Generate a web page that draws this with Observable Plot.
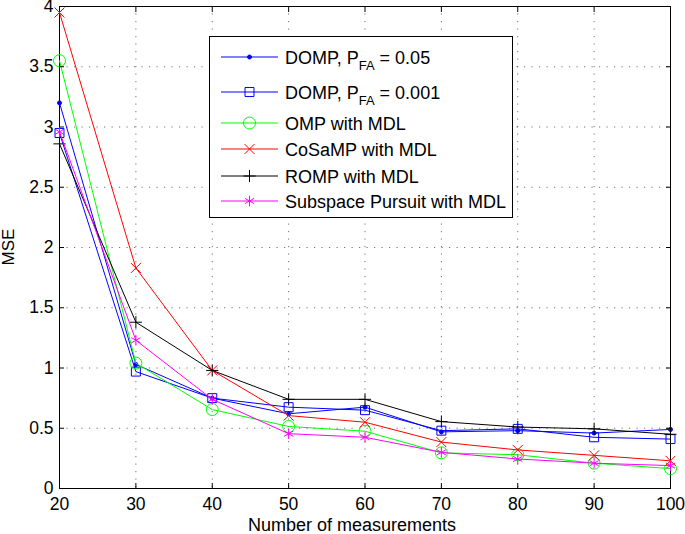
<!DOCTYPE html>
<html><head><meta charset="utf-8">
<script src="https://cdn.jsdelivr.net/npm/d3@7"></script>
<script src="https://cdn.jsdelivr.net/npm/@observablehq/plot@0.6"></script>
<style>
body{margin:0;background:#fff}
#chart{width:685px;height:534px}
</style>
</head><body><div id="chart"></div>
<script>
const measurements = [20, 30, 40, 50, 60, 70, 80, 90, 100];
const dompPfa005  = [3.20, 1.03, 0.75, 0.62, 0.675, 0.47, 0.48, 0.46, 0.49];
const dompPfa0001 = [2.95, 0.97, 0.75, 0.675, 0.65, 0.48, 0.495, 0.425, 0.41];
const ompMdl      = [3.55, 1.04, 0.655, 0.515, 0.475, 0.296, 0.28, 0.21, 0.165];
const cosampMdl   = [3.95, 1.83, 0.98, 0.605, 0.55, 0.385, 0.32, 0.275, 0.23];
const rompMdl     = [2.86, 1.38, 0.98, 0.74, 0.74, 0.555, 0.51, 0.495, 0.45];
const spMdl       = [2.96, 1.23, 0.74, 0.455, 0.425, 0.30, 0.245, 0.21, 0.19];

const xTicks = [20, 30, 40, 50, 60, 70, 80, 90, 100];
const yTicks = [0, 0.5, 1, 1.5, 2, 2.5, 3, 3.5, 4];
const xLabel = "Number of measurements";
const yLabel = "MSE";

const series = [
  {name: "DOMP, P", sub: "FA", rest: " = 0.05", values: dompPfa005, color: "#0000ff", symbol: "circle", r: 2, fill: "#0000ff"},
  {name: "DOMP, P", sub: "FA", rest: " = 0.001", values: dompPfa0001, color: "#0000ff", symbol: "square2", r: 5.7, fill: "none"},
  {name: "OMP with MDL", values: ompMdl, color: "#00ff00", symbol: "circle", r: 6, fill: "none"},
  {name: "CoSaMP with MDL", values: cosampMdl, color: "#ff0000", symbol: "times", r: 4.6, fill: "none"},
  {name: "ROMP with MDL", values: rompMdl, color: "#000000", symbol: "plus", r: 4, fill: "none"},
  {name: "Subspace Pursuit with MDL", values: spMdl, color: "#ff00ff", symbol: "asterisk", r: 5, fill: "none"}
];

const FONT = '"Liberation Sans", Arial, Helvetica, sans-serif';

const marks = [
  Plot.gridX(xTicks, {stroke: "#000", strokeOpacity: 0.55, strokeDasharray: "1.2,6.3"}),
  Plot.gridY(yTicks, {stroke: "#000", strokeOpacity: 0.55, strokeDasharray: "1.2,6.3"}),
  Plot.frame({stroke: "#000", strokeWidth: 1})
];
series.forEach((s) => {
  const rows = measurements.map((m, i) => ({x: m, y: s.values[i]}));
  marks.push(Plot.line(rows, {x: "x", y: "y", stroke: s.color, strokeWidth: 1}));
  marks.push(Plot.dot(rows, {x: "x", y: "y", stroke: s.color, fill: s.fill, symbol: s.symbol, r: s.r, strokeWidth: 1}));
});
marks.push(
  Plot.axisX(xTicks, {anchor: "bottom", tickSize: -5, tickPadding: 14, fontSize: 17.5, label: null, tickFormat: d => String(d)}),
  Plot.axisX(xTicks, {anchor: "top", tickSize: -5, tickFormat: () => "", label: null}),
  Plot.axisY(yTicks, {anchor: "left", tickSize: -5, tickPadding: 11, fontSize: 17.5, label: null, tickFormat: d => String(d)}),
  Plot.axisY(yTicks, {anchor: "right", tickSize: -5, tickFormat: () => "", label: null})
);

const svg = Plot.plot({
  width: 685, height: 534,
  marginLeft: 59, marginRight: 15, marginTop: 6, marginBottom: 46,
  x: {domain: [20, 100]},
  y: {domain: [0, 4]},
  style: {fontFamily: FONT, fontSize: "17.5px", color: "#000", background: "#fff", overflow: "visible"},
  marks
});

const s = d3.select(svg);
// axis titles
s.append("text").attr("x", 352).attr("y", 531).attr("text-anchor", "middle")
  .style("font-size", "18px").attr("fill", "#000").text(xLabel);
s.append("text").attr("transform", "translate(14,247) rotate(-90)").attr("text-anchor", "middle")
  .style("font-size", "17px").attr("fill", "#000").text(yLabel);

// legend
const lg = s.append("g");
lg.append("rect").attr("x", 209.5).attr("y", 36.5).attr("width", 303).attr("height", 181)
  .attr("fill", "#fff").attr("stroke", "#000");
const rowY = [57, 92, 123, 149, 176, 201];
const symMap = {circle: d3.symbolCircle, square2: d3.symbolSquare2, times: d3.symbolTimes, plus: d3.symbolPlus, asterisk: d3.symbolAsterisk};
series.forEach((sr, i) => {
  const y = rowY[i];
  lg.append("line").attr("x1", 221).attr("x2", 278).attr("y1", y).attr("y2", y)
    .attr("stroke", sr.color).attr("stroke-width", 1);
  lg.append("path").attr("transform", `translate(249.5,${y})`)
    .attr("d", d3.symbol(symMap[sr.symbol], Math.PI * sr.r * sr.r)())
    .attr("stroke", sr.color).attr("fill", sr.fill);
  const t = lg.append("text").attr("x", 285).attr("y", y + 6.5)
    .attr("text-anchor", "start").style("font-size", "18px").attr("fill", "#000");
  t.append("tspan").text(sr.name);
  if (sr.sub) {
    t.append("tspan").attr("dy", 6).style("font-size", "13px").text(sr.sub);
    t.append("tspan").attr("dy", -6).text(sr.rest);
  }
});

document.getElementById("chart").appendChild(svg);
</script>
</body></html>
